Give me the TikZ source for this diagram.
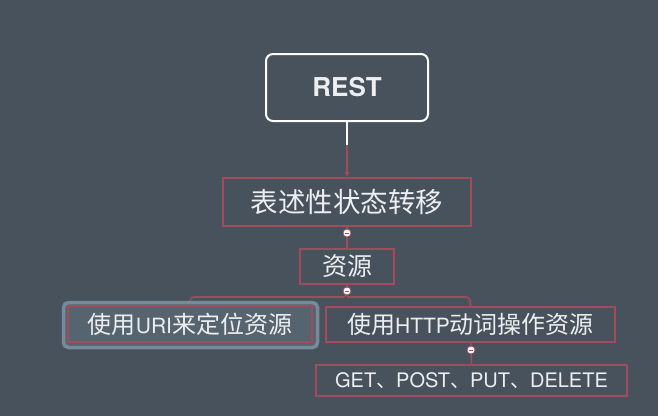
\documentclass[tikz,border=0pt]{standalone}
\usepackage{fontspec}
\usetikzlibrary{arrows.meta,backgrounds}
\newfontfamily\cjk{Noto Sans CJK SC}
\newfontfamily\lat{TeX Gyre Heros}
\definecolor{bg}{RGB}{72,82,92}
\definecolor{redl}{RGB}{160,76,92}
\definecolor{selb}{RGB}{118,138,154}
\definecolor{self}{RGB}{86,100,112}
\definecolor{txt}{RGB}{236,238,240}
\newcommand\lo[1]{{\lat\fontsize{21}{25}\selectfont #1}}
\tikzset{
  box/.style={draw=redl, line width=1.6pt, inner sep=0pt, text=txt, font=\cjk},
  conn/.style={draw=redl, line width=1.6pt},
  knob/.style={circle, draw=redl, fill=white, line width=0.8pt, minimum size=8pt, inner sep=0pt}
}
\begin{document}
\begin{tikzpicture}[x=1pt,y=-1pt]
\useasboundingbox (0,0) rectangle (658,416);
% REST
\node[draw=white, line width=2pt, rounded corners=7pt, minimum width=162pt, minimum height=67pt, text=txt, font=\lat\bfseries\fontsize{26}{30}\selectfont] (rest) at (347,87.5) {REST};
\node[box, minimum width=248pt, minimum height=48pt, font=\cjk\fontsize{27.5}{31}\selectfont] (b2) at (347,202) {表述性状态转移};
\node[box, minimum width=94pt, minimum height=35pt, font=\cjk\fontsize{25}{29}\selectfont] (b3) at (347,266.5) {资源};
% selected box highlight
\node[draw=selb, fill=self, line width=3.5pt, rounded corners=5pt, minimum width=254pt, minimum height=45pt] (sel) at (190.5,325) {};
\node[box, minimum width=244pt, minimum height=36pt, font=\cjk\fontsize{24}{28}\selectfont] (b4) at (190,324) {使用\lo{URI}来定位资源};
\node[box, minimum width=289pt, minimum height=35pt, font=\cjk\fontsize{24}{28}\selectfont] (b5) at (470.5,324.5) {使用\lo{HTTP}动词操作资源};
\node[box, minimum width=311pt, minimum height=31pt, font=\lat\fontsize{20}{24}\selectfont] (b6) at (471.5,380.5) {GET{\cjk 、}POST{\cjk 、}PUT{\cjk 、}DELETE};
\node[knob] (k1) at (347,233) {};
\node[knob] (k2) at (347,291) {};
\node[knob] (k3) at (471,350) {};
\foreach \k in {k1,k2,k3} \draw[redl, line width=0.9pt] ([xshift=-2pt]\k.center) -- ([xshift=2pt]\k.center);
% connectors
\begin{scope}[on background layer]
\fill[bg] (0,0) rectangle (658,416);
\coordinate (mid) at (347,145);
\draw[white, line width=2pt] (rest.south) -- (mid);
\draw[conn, -{Latex[length=5pt,width=5pt]}] (mid) -- (b2.north);
\draw[conn] (b2.south) -- (k1);
\draw[conn] (k1) -- (b3.north);
\draw[conn] (b3.south) -- (k2);
\coordinate (j) at (347,297);
\coordinate (hl) at (190,297);
\coordinate (hr) at (470,297);
\draw[conn, rounded corners=4pt] (k2.south) -- (j) -- (hl) -- (b4.north);
\draw[conn, rounded corners=4pt] (j) -- (hr) -- (b5.north);
\draw[conn] (b5.south) -- (k3);
\draw[conn] (k3) -- (b6.north);
\end{scope}
\end{tikzpicture}
\end{document}
